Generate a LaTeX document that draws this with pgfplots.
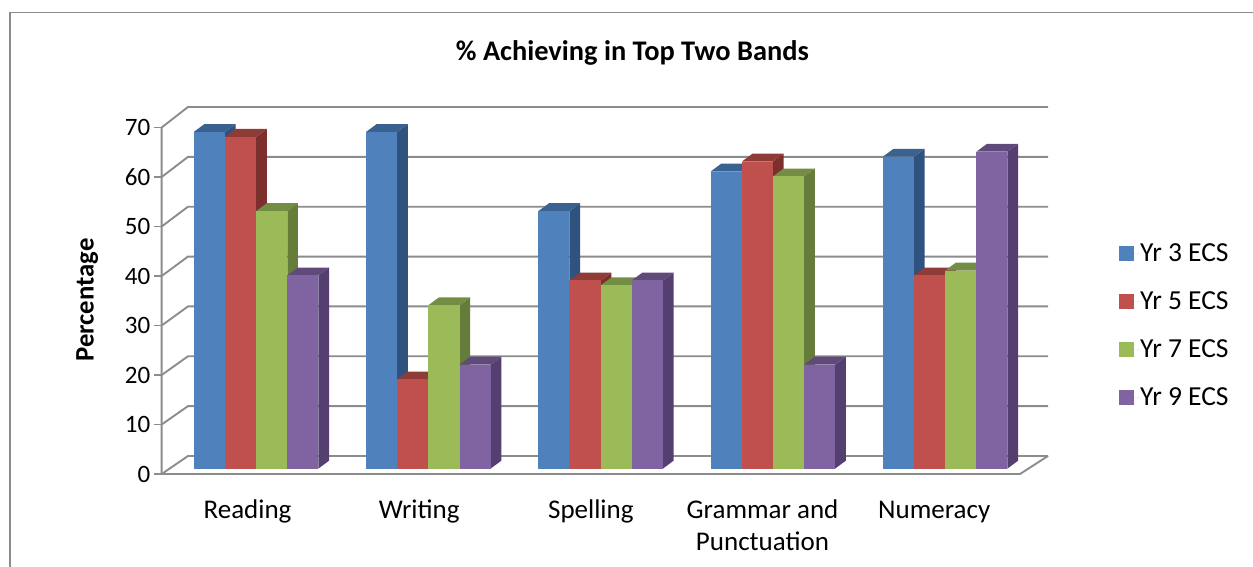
\documentclass[border=0pt]{standalone}
\usepackage{fontspec}
\setmainfont{Carlito}
\usepackage{pgfplots}
\pgfplotsset{compat=1.18}
\definecolor{blueF}{HTML}{4F81BD}\definecolor{blueS}{HTML}{30527F}\definecolor{blueT}{HTML}{3A6291}
\definecolor{redF}{HTML}{C0504D}\definecolor{redS}{HTML}{7D2F2D}\definecolor{redT}{HTML}{8F3B38}
\definecolor{greenF}{HTML}{9BBB59}\definecolor{greenS}{HTML}{667C3A}\definecolor{greenT}{HTML}{748D44}
\definecolor{purpleF}{HTML}{8064A2}\definecolor{purpleS}{HTML}{543F70}\definecolor{purpleT}{HTML}{604A7B}
\definecolor{wall}{HTML}{8C8C8C}

% category, series position, value, colour prefix
\newcommand{\solidbar}[4]{%
  \pgfmathsetmacro\xa{#1*1.0035+0.187+#2*0.1815}%
  \pgfmathsetmacro\xb{\xa+0.1815}%
  \pgfmathsetmacro\xc{\xa+0.0623}%
  \pgfmathsetmacro\xd{\xb+0.0623}%
  \pgfmathsetmacro\ya{1.1}%
  \pgfmathsetmacro\yb{1.1+#3}%
  \pgfmathsetmacro\yc{\ya+1.6}%
  \pgfmathsetmacro\yd{\yb+1.6}%
  \edef\tmp{%
    \noexpand\addplot[fill=#4S,draw=none,forget plot] coordinates {(\xb,\ya)(\xd,\yc)(\xd,\yd)(\xb,\yb)} --cycle;
    \noexpand\addplot[fill=#4T,draw=none,forget plot] coordinates {(\xa,\yb)(\xb,\yb)(\xd,\yd)(\xc,\yd)} --cycle;
    \noexpand\addplot[fill=#4F,draw=none,forget plot] coordinates {(\xa,\ya)(\xb,\ya)(\xb,\yb)(\xa,\yb)} --cycle;
  }\tmp
}
% front value, height of the same line on the back wall
\newcommand{\gridline}[2]{%
  \addplot[wall,line width=1.9bp,forget plot] coordinates {(0,#1)(0.153,#2)(5.163,#2)};
}
\newcommand{\fs}[1]{\fontsize{#1bp}{32bp}\selectfont}

\begin{document}
\begin{tikzpicture}
\begin{axis}[
    scale only axis,
    width=886.3bp,
    height=367bp,
    xmin=0, xmax=5.163,
    ymin=0, ymax=74.14,
    clip=false,
    axis x line*=bottom,
    axis y line*=left,
    axis line style={draw=none},
    tick align=outside,
    tick style={wall,line width=1.5bp},
    major tick length=8bp,
    minor tick length=8bp,
    xtick={0.5,1.5,2.5,3.5,4.5},
    xticklabels={\strut Reading,\strut Writing,\strut Spelling,{\strut Grammar and\\\strut Punctuation},\strut Numeracy},
    x tick style={draw=none},
    minor xtick={0,1,2,3,4,5},
    minor x tick style={wall,line width=1.5bp},
    xticklabel style={font=\fs{27},align=center,anchor=north,yshift=-11bp},
    ytick={0,10,20,30,40,50,60,70},
    /pgf/number format/assume math mode=true,
    yticklabel style={font=\fs{25}},
    title={\% Achieving in Top Two Bands},
    title style={font=\fs{28.4}\bfseries,at={(axis description cs:0.531,1.153)},anchor=center,yshift=-8bp},
    ylabel={Percentage},
    ylabel style={font=\fs{26.7}\bfseries,at={(axis description cs:-0.084,0.474)},anchor=center},
    legend style={at={(1.08,0.405)},anchor=west,draw=none,fill=none,inner sep=0pt,
      font=\fs{27.5},row sep=28.5bp,
      nodes={inner sep=0pt,outer sep=0pt}},
    legend cell align=left,
    legend image code/.code={\fill[#1,draw=none] (0bp,-7.5bp) rectangle (15bp,7.5bp);\path[draw=none] (0bp,0bp) -- (21bp,0bp);},
]
\addlegendimage{fill=blueF}\addlegendentry{Yr 3 ECS}
\addlegendimage{fill=redF}\addlegendentry{Yr 5 ECS}
\addlegendimage{fill=greenF}\addlegendentry{Yr 7 ECS}
\addlegendimage{fill=purpleF}\addlegendentry{Yr 9 ECS}

% walls and floor
\gridline{70}{74.14}
\gridline{60}{64.06}
\gridline{50}{53.99}
\gridline{40}{43.92}
\gridline{30}{33.85}
\gridline{20}{23.78}
\gridline{10}{13.71}
\gridline{0}{3.64}
\addplot[wall,line width=1.9bp,forget plot] coordinates {(0,70)(0,0)(5,0)(5.163,3.64)};

% Reading
\solidbar{0}{0}{68}{blue}
\solidbar{0}{1}{67}{red}
\solidbar{0}{2}{52}{green}
\solidbar{0}{3}{39}{purple}
% Writing
\solidbar{1}{0}{68}{blue}
\solidbar{1}{1}{18}{red}
\solidbar{1}{2}{33}{green}
\solidbar{1}{3}{21}{purple}
% Spelling
\solidbar{2}{0}{52}{blue}
\solidbar{2}{1}{38}{red}
\solidbar{2}{2}{37}{green}
\solidbar{2}{3}{38}{purple}
% Grammar and Punctuation
\solidbar{3}{0}{60}{blue}
\solidbar{3}{1}{62}{red}
\solidbar{3}{2}{59}{green}
\solidbar{3}{3}{21}{purple}
% Numeracy
\solidbar{4}{0}{63}{blue}
\solidbar{4}{1}{39}{red}
\solidbar{4}{2}{40}{green}
\solidbar{4}{3}{64}{purple}
\end{axis}
% outer frame; axis origin is pixel (161.7,474)
\draw[wall,line width=2.4bp] (-151.5bp,-93bp) -- (-151.5bp,461.5bp);
\draw[wall,line width=1.2bp] (-152.7bp,461.5bp) -- (1091.3bp,461.5bp);
\pgfresetboundingbox
\path (-161.7bp,-93bp) rectangle (1091.3bp,474bp);
\end{tikzpicture}
\end{document}
